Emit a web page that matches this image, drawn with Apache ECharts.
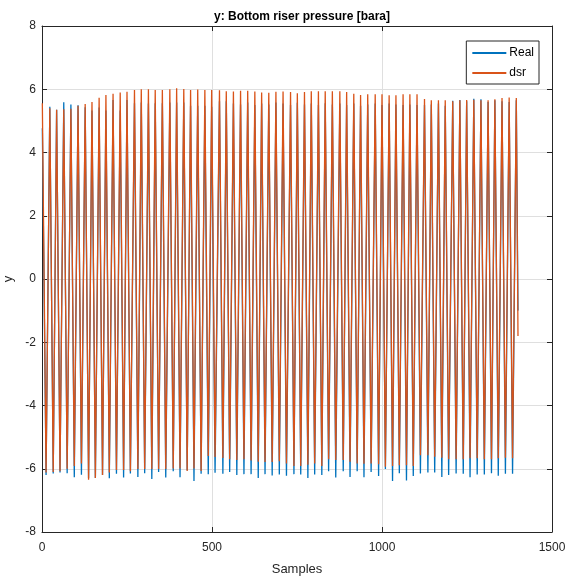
<!DOCTYPE html>
<html>
<head>
<meta charset="utf-8">
<script src="https://cdn.jsdelivr.net/npm/echarts@6/dist/echarts.min.js"></script>
<style>html,body{margin:0;padding:0;background:#fff;}#c{width:583px;height:578px;}</style>
</head>
<body>
<div id="c"></div>
<script>
// Sample index of each peak / trough
const peakX = [1,23,43,64,85,106,127,147,168,188,209,230,250,272,292,313,333,354,376,396,417,437,458,479,499,522,542,563,584,605,626,646,667,688,709,731,751,772,792,813,833,854,876,896,917,937,958,980,1000,1021,1041,1062,1082,1103,1125,1145,1166,1186,1208,1229,1249,1270,1291,1312,1332,1353,1374,1395];
const troughX = [12,33,53,74,95,116,137,157,178,198,219,240,260,282,302,323,343,364,386,406,427,447,468,489,509,532,552,573,594,615,636,656,677,698,719,741,761,782,802,823,843,864,886,906,927,947,968,990,1010,1031,1051,1072,1092,1113,1135,1155,1176,1196,1218,1239,1259,1280,1301,1322,1342,1363,1384];
const endX = 1400;

// dsr (orange) peaks / troughs
const dsrPeak = [5.56,5.40,5.35,5.37,5.38,5.48,5.53,5.60,5.73,5.82,5.86,5.90,5.92,5.98,6.00,6.00,5.98,5.98,6.00,6.03,6.01,5.98,5.99,5.98,5.98,5.97,5.94,5.93,5.95,5.95,5.93,5.90,5.89,5.92,5.93,5.91,5.87,5.91,5.94,5.94,5.94,5.94,5.94,5.91,5.86,5.82,5.84,5.84,5.84,5.81,5.81,5.84,5.84,5.84,5.69,5.65,5.65,5.65,5.62,5.65,5.66,5.67,5.65,5.65,5.68,5.72,5.74,5.72];
const dsrTrough = [-6.12,-6.10,-6.08,-6.00,-5.91,-5.83,-6.35,-6.29,-6.20,-6.12,-6.04,-6.04,-6.08,-6.01,-6.01,-6.01,-6.01,-6.01,-5.99,-5.99,-6.07,-5.99,-6.07,-5.60,-5.63,-5.66,-5.70,-5.72,-5.70,-5.74,-5.78,-5.79,-5.79,-5.76,-5.83,-5.91,-5.91,-5.87,-5.83,-5.91,-5.70,-5.72,-5.72,-5.78,-5.83,-5.84,-5.83,-5.86,-5.94,-5.91,-5.89,-5.89,-5.91,-5.57,-5.57,-5.62,-5.65,-5.70,-5.70,-5.70,-5.67,-5.67,-5.70,-5.70,-5.67,-5.65,-5.67];
const dsrEnd = -1.8;

// Real (blue) peaks / troughs
const realPeak = [4.77,5.45,5.35,5.59,5.52,5.49,5.43,5.33,5.42,5.33,5.66,5.33,5.66,5.56,5.58,5.55,5.56,5.56,5.58,5.58,5.58,5.48,5.48,5.48,5.45,5.62,5.62,5.55,5.52,5.58,5.50,5.55,5.52,5.58,5.55,5.50,5.57,5.52,5.55,5.50,5.56,5.52,5.55,5.50,5.55,5.48,5.52,5.55,5.50,5.55,5.52,5.50,5.52,5.50,5.50,5.52,5.55,5.48,5.64,5.66,5.62,5.70,5.68,5.60,5.65,5.62,5.60,5.65];
const realTrough = [-6.20,-6.15,-6.12,-6.14,-6.27,-6.19,-6.30,-6.29,-6.20,-6.30,-6.16,-6.28,-6.15,-6.26,-6.14,-6.32,-6.10,-6.28,-6.08,-6.27,-6.05,-6.39,-6.16,-6.17,-6.13,-6.16,-6.10,-6.20,-6.17,-6.17,-6.29,-6.17,-6.21,-6.18,-6.22,-6.17,-6.18,-6.29,-6.18,-6.20,-6.08,-6.28,-6.08,-6.26,-6.08,-6.27,-6.10,-6.23,-6.01,-6.39,-6.14,-6.37,-6.23,-6.15,-6.12,-6.12,-6.26,-6.20,-6.15,-6.16,-6.27,-6.18,-6.18,-6.14,-6.22,-6.16,-6.16];
const realEnd = -1.0;

const xTicks = [0, 500, 1000, 1500];
const yTicks = [-8, -6, -4, -2, 0, 2, 4, 6, 8];

function build(peaks, troughs, last) {
  const out = [];
  for (let i = 0; i < peakX.length; i++) {
    out.push([peakX[i], peaks[i]]);
    if (i < troughX.length) out.push([troughX[i], troughs[i]]);
  }
  out.push([endX, last]);
  return out;
}

const FONT = "'Liberation Sans', Arial, sans-serif";
const AX = '#262626';
const chart = echarts.init(document.getElementById('c'), null, {renderer: 'canvas'});
const axisCommon = {
  axisLine: {show: true, onZero: false, lineStyle: {color: AX, width: 1}},
  axisTick: {show: true, inside: true, length: 5, lineStyle: {color: AX}},
};
chart.setOption({
  animation: false,
  backgroundColor: '#fff',
  textStyle: {fontFamily: FONT},
  title: {
    text: 'y: Bottom riser pressure [bara]',
    left: 297, top: 6, textAlign: 'center',
    textStyle: {fontFamily: FONT, fontSize: 12, fontWeight: 'bold', color: '#000'}
  },
  legend: {
    data: [{name: 'Real', icon: 'rect'}, {name: 'dsr', icon: 'rect'}],
    orient: 'vertical',
    right: 44, top: 41,
    backgroundColor: '#fff',
    borderColor: AX, borderWidth: 1,
    borderRadius: 0,
    padding: [6, 5, 5, 6],
    itemGap: 8,
    itemWidth: 34, itemHeight: 2,
    textStyle: {fontFamily: FONT, fontSize: 12, color: '#000', padding: [0, 0, 0, -2]}
  },
  grid: {left: 42, right: 31, top: 26, bottom: 46, containLabel: false, outerBoundsMode: 'none'},
  xAxis: [
    Object.assign({
      type: 'value', min: xTicks[0], max: xTicks[xTicks.length - 1], interval: 500,
      name: 'Samples', nameLocation: 'middle', nameGap: 31,
      nameTextStyle: {fontFamily: FONT, fontSize: 13, color: AX},
      axisLabel: {fontFamily: FONT, fontSize: 12, color: AX, margin: 10, formatter: v => String(v)},
      splitLine: {show: true, lineStyle: {color: '#dfdfdf', width: 1}}
    }, axisCommon),
    Object.assign({
      type: 'value', position: 'top', min: xTicks[0], max: xTicks[xTicks.length - 1], interval: 500,
      axisLabel: {show: false}, splitLine: {show: false}
    }, axisCommon)
  ],
  yAxis: [
    Object.assign({
      type: 'value', min: yTicks[0], max: yTicks[yTicks.length - 1], interval: 2,
      name: 'y', nameLocation: 'middle', nameGap: 21,
      nameTextStyle: {fontFamily: FONT, fontSize: 13, color: AX},
      axisLabel: {fontFamily: FONT, fontSize: 12, color: AX, margin: 6, formatter: v => String(v)},
      splitLine: {show: true, lineStyle: {color: '#dfdfdf', width: 1}}
    }, axisCommon),
    Object.assign({
      type: 'value', position: 'right', min: yTicks[0], max: yTicks[yTicks.length - 1], interval: 2,
      axisLabel: {show: false}, splitLine: {show: false}
    }, axisCommon)
  ],
  series: [
    {
      name: 'Real', type: 'line', xAxisIndex: 0, yAxisIndex: 0,
      data: build(realPeak, realTrough, realEnd),
      symbol: 'none', showSymbol: false, color: '#0072BD',
      lineStyle: {color: '#0072BD', width: 1.3}
    },
    {
      name: 'dsr', type: 'line', xAxisIndex: 0, yAxisIndex: 0,
      data: build(dsrPeak, dsrTrough, dsrEnd),
      symbol: 'none', showSymbol: false, color: '#D95319',
      lineStyle: {color: '#D95319', width: 1.3}
    }
  ]
});
</script>
</body>
</html>
